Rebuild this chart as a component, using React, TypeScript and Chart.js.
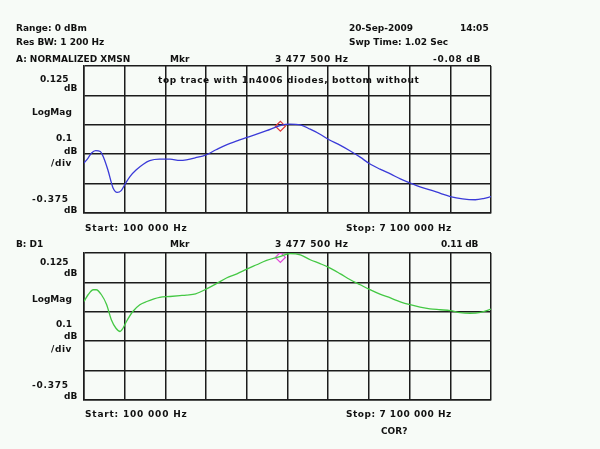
import React, { useEffect, useRef } from "react";
import { Chart, registerables } from "chart.js";
Chart.register(...registerables);

// Frequency in MHz, magnitude in dB
const freqA = [0.10,0.17,0.23,0.30,0.38,0.44,0.51,0.60,0.67,0.74,0.80,0.89,1.00,1.12,1.23,1.40,1.58,1.75,1.86,2.02,2.20,2.37,2.55,2.73,2.90,3.07,3.24,3.47,3.64,3.82,3.99,4.16,4.30,4.51,4.68,4.85,5.00,5.19,5.37,5.54,5.71,5.88,6.05,6.23,6.40,6.61,6.83,6.97,7.10];
const traceA = [-0.205,-0.188,-0.171,-0.163,-0.166,-0.188,-0.228,-0.290,-0.305,-0.299,-0.279,-0.251,-0.228,-0.209,-0.197,-0.192,-0.192,-0.196,-0.194,-0.187,-0.177,-0.160,-0.143,-0.130,-0.118,-0.107,-0.095,-0.078,-0.073,-0.075,-0.090,-0.107,-0.124,-0.145,-0.164,-0.185,-0.206,-0.226,-0.242,-0.259,-0.273,-0.286,-0.296,-0.308,-0.319,-0.327,-0.330,-0.326,-0.319];
const freqB = [0.10,0.17,0.26,0.31,0.40,0.49,0.57,0.65,0.72,0.77,0.83,0.94,1.06,1.18,1.40,1.58,1.75,1.86,2.02,2.20,2.37,2.55,2.73,2.90,3.07,3.24,3.47,3.64,3.82,3.99,4.16,4.30,4.51,4.68,4.85,5.00,5.19,5.37,5.54,5.71,5.88,6.05,6.23,6.40,6.57,6.74,6.92,7.10];
const traceB = [-0.040,-0.017,0.000,0.000,-0.017,-0.051,-0.102,-0.131,-0.142,-0.131,-0.108,-0.074,-0.051,-0.040,-0.026,-0.023,-0.020,-0.018,-0.014,0.002,0.020,0.040,0.054,0.070,0.085,0.100,0.113,0.123,0.119,0.102,0.089,0.077,0.054,0.034,0.017,0.002,-0.015,-0.028,-0.041,-0.051,-0.059,-0.065,-0.068,-0.071,-0.078,-0.080,-0.077,-0.066];

const xGrid = [0.1,0.8,1.5,2.2,2.9,3.6,4.3,5.0,5.7,6.4,7.1];
const yGrid = [-0.375,-0.275,-0.175,-0.075,0.025,0.125];
const markerFreq = 3.4775;
const markerA = -0.08;
const markerB = 0.11;

const FONT = 'bold 9px "DejaVu Sans"';

const textPlugin = {
  id: "panelText",
  afterDraw(chart: any) {
    const items = chart.options.plugins.panelText?.items || [];
    const ctx = chart.ctx;
    ctx.save();
    ctx.font = FONT;
    ctx.fillStyle = "#111";
    ctx.textBaseline = "alphabetic";
    ctx.textAlign = "left";
    for (const [t, x, y, ls] of items) {
      (ctx as any).letterSpacing = `${ls || 0}px`;
      ctx.fillText(t, x, y);
    }
    ctx.restore();
  },
};

function makeChart(
  canvas: HTMLCanvasElement,
  freq: number[],
  vals: number[],
  color: string,
  mVal: number,
  mColor: string,
  top: number,
  bottom: number,
  texts: any[]
) {
  const gridColor = "#1c1c1c";
  return new Chart(canvas, {
    type: "line",
    data: {
      datasets: [
        {
          data: freq.map((f, i) => ({ x: f, y: vals[i] })),
          borderColor: color,
          borderWidth: 1.3,
          pointRadius: 0,
          cubicInterpolationMode: "monotone",
        },
        {
          data: [{ x: markerFreq, y: mVal }],
          showLine: false,
          pointStyle: "rectRot",
          pointRadius: 5,
          borderColor: mColor,
          backgroundColor: "rgba(0,0,0,0)",
          borderWidth: 1.2,
        },
      ],
    },
    plugins: [textPlugin],
    options: {
      responsive: false,
      animation: false,
      events: [],
      layout: { padding: { left: 84, right: 600 - 491, top, bottom: 449 - bottom } },
      plugins: {
        legend: { display: false },
        tooltip: { enabled: false },
        panelText: { items: texts },
      } as any,
      scales: {
        x: {
          type: "linear",
          min: 0.1,
          max: 7.1,
          afterBuildTicks: (s: any) => { s.ticks = xGrid.map((v) => ({ value: v })); },
          afterFit: (s: any) => { s.height = 0; },
          ticks: { display: false },
          grid: { color: gridColor, lineWidth: 1.5, drawTicks: false },
          border: { color: gridColor, width: 1.5 },
        },
        y: {
          type: "linear",
          min: -0.375,
          max: 0.125,
          afterBuildTicks: (s: any) => { s.ticks = yGrid.map((v) => ({ value: v })); },
          afterFit: (s: any) => { s.width = 0; },
          ticks: { display: false },
          grid: { color: gridColor, lineWidth: 1.5, drawTicks: false },
          border: { color: gridColor, width: 1.5 },
        },
      },
    } as any,
  });
}

const textsA = [
  ["Range: 0 dBm", 16, 31],
  ["Res BW: 1 200 Hz", 16, 45],
  ["20-Sep-2009", 349, 31],
  ["14:05", 460, 31],
  ["Swp Time: 1.02 Sec", 349, 45],
  ["A: NORMALIZED XMSN", 16, 62],
  ["Mkr", 170, 62],
  ["3 477 500 Hz", 275, 62, 0.64],
  ["-0.08 dB", 433, 62, 0.7],
  ["0.125", 40, 82],
  ["dB", 64, 91],
  ["LogMag", 32, 115],
  ["0.1", 56, 141],
  ["dB", 64, 154],
  ["/div", 51, 166, 0.6],
  ["-0.375", 32, 202, 0.75],
  ["dB", 64, 213],
  ["top trace with 1n4006 diodes, bottom without", 158, 83, 0.61],
  ["Start: 100 000 Hz", 85, 231, 0.8],
  ["Stop: 7 100 000 Hz", 346, 231, 0.54],
];
const textsB = [
  ["B: D1", 16, 247],
  ["Mkr", 170, 247],
  ["3 477 500 Hz", 275, 247, 0.64],
  ["0.11 dB", 441, 247, -0.2],
  ["0.125", 40, 265],
  ["dB", 64, 276],
  ["LogMag", 32, 302],
  ["0.1", 56, 327],
  ["dB", 64, 339],
  ["/div", 51, 352, 0.6],
  ["-0.375", 32, 388, 0.75],
  ["dB", 64, 399],
  ["Start: 100 000 Hz", 85, 417, 0.8],
  ["Stop: 7 100 000 Hz", 346, 417, 0.54],
  ["COR?", 381, 434],
];

export default function App() {
  const refA = useRef<HTMLCanvasElement>(null);
  const refB = useRef<HTMLCanvasElement>(null);
  useEffect(() => {
    const a = makeChart(refA.current!, freqA, traceA, "#3a3ad8", markerA, "#e03a3a", 66, 213, textsA);
    const b = makeChart(refB.current!, freqB, traceB, "#44c844", markerB, "#e048d8", 253, 400, textsB);
    return () => { a.destroy(); b.destroy(); };
  }, []);
  const cs: React.CSSProperties = { position: "absolute", left: 0, top: 0, width: 600, height: 449 };
  return (
    <div style={{ position: "fixed", left: 0, top: 0, width: 600, height: 449, background: "#f7fbf7" }}>
      <canvas ref={refA} width={600} height={449} style={cs} />
      <canvas ref={refB} width={600} height={449} style={cs} />
    </div>
  );
}
